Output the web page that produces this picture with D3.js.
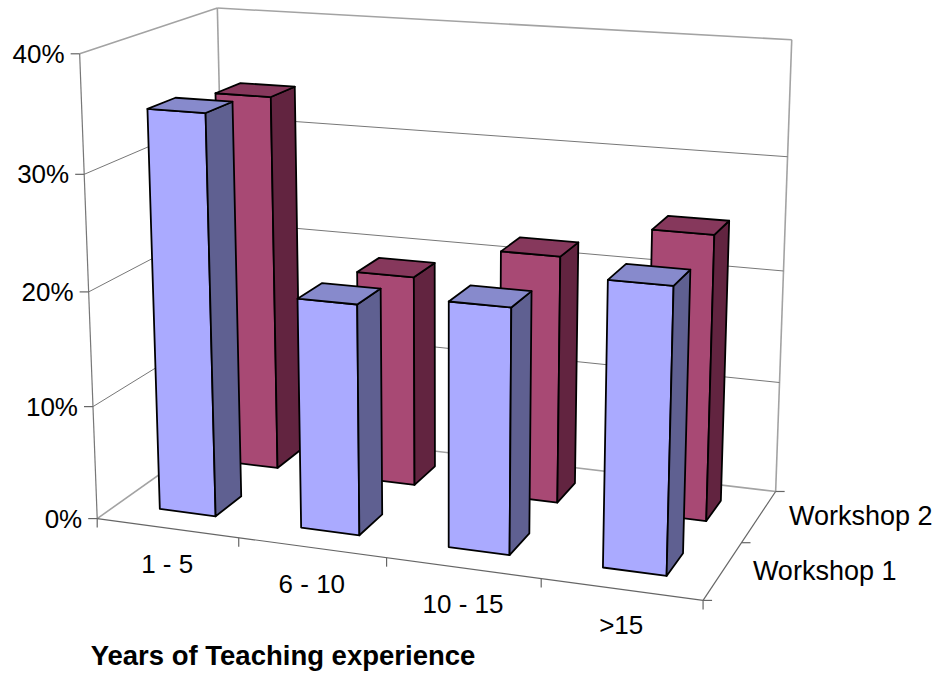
<!DOCTYPE html>
<html>
<head>
<meta charset="utf-8">
<script src="https://cdn.jsdelivr.net/npm/d3@7"></script>
<style>
  html, body { margin: 0; padding: 0; background: #fff; }
  svg { display: block; }
  text { font-family: "Liberation Sans", Arial, sans-serif; fill: #000; }
</style>
</head>
<body>
<svg id="chart" width="938" height="674"></svg>
<script>
// ---- data ----
const categories = ["1 - 5", "6 - 10", "10 - 15", ">15"];
const seriesNames = ["Workshop 1", "Workshop 2"];
const workshop1 = [35, 20, 21, 24];
const workshop2 = [34, 19, 22, 25];
const valueTicks = [0, 10, 20, 30, 40];
const axisTitle = "Years of Teaching experience";

// ---- world scales (plot box: x 0..4 categories, z 0..2 series, y 0..4) ----
const xBand = d3.scaleBand().domain(categories).range([0, 4]).paddingInner(0.6).paddingOuter(0.3);
const zBand = d3.scaleBand().domain(seriesNames).range([0, 2]).paddingInner(0.6).paddingOuter(0.3);
const yScale = d3.scaleLinear().domain([0, 40]).range([0, 4]);

// ---- camera: perspective matrix fitted to where the plot box lands on screen ----
const calib = [
  [0,0,0,98,518],[4,0,0,702,601],[4,0,2,776,490],[0,4,0,80,53],[0,4,2,218,8],[4,4,2,792,40],
  [1,0,0,239,540],[2,0,0,387,558],[4,0,1,743,542],[0,1,0,93,406],[0,3,0,83,175],[4,3,2,787,157],
  [0.3,0,0.3,160,509],[0.7,0,0.3,216,516],[0.7,0,0.7,242,495],
  [1.3,0,0.3,301,528],[1.7,0,0.3,359,534],[1.7,0,0.7,382,515],
  [2.3,0,0.3,448,548],[2.7,0,0.3,509,555],[2.7,0,0.7,530,533],
  [0.7,0,1.3,278,467],[0.7,0,1.7,298,452],[1.7,0,1.3,415,484],[1.7,0,1.7,435,467],
  [2.7,0,1.3,557,502],[2.7,0,1.7,575,483],[3.7,0,1.3,706,520],[3.7,0,1.7,721,503]
];
const CX = 470, CY = 337, S = 300;

// least-squares DLT: 3x4 projection with the last entry fixed to 1
function fitCamera(pts) {
  const n = 11;
  const M = Array.from({length: n}, () => new Array(n + 1).fill(0));
  const add = (r, b) => {
    for (let i = 0; i < n; i++) {
      for (let j = 0; j < n; j++) M[i][j] += r[i] * r[j];
      M[i][n] += r[i] * b;
    }
  };
  for (const [X, Y, Z, u0, v0] of pts) {
    const u = (u0 - CX) / S, v = (v0 - CY) / S;
    add([X, Y, Z, 1, 0, 0, 0, 0, -u * X, -u * Y, -u * Z], u);
    add([0, 0, 0, 0, X, Y, Z, 1, -v * X, -v * Y, -v * Z], v);
  }
  for (let c = 0; c < n; c++) {
    let piv = c;
    for (let r = c + 1; r < n; r++) if (Math.abs(M[r][c]) > Math.abs(M[piv][c])) piv = r;
    [M[c], M[piv]] = [M[piv], M[c]];
    for (let r = 0; r < n; r++) {
      if (r === c) continue;
      const f = M[r][c] / M[c][c];
      for (let k = c; k <= n; k++) M[r][k] -= f * M[c][k];
    }
  }
  return M.map((row, i) => row[n] / row[i]);
}
const P = fitCamera(calib);

function project(X, Y, Z) {
  const w = P[8] * X + P[9] * Y + P[10] * Z + 1;
  return [
    (P[0] * X + P[1] * Y + P[2] * Z + P[3]) / w * S + CX,
    (P[4] * X + P[5] * Y + P[6] * Z + P[7]) / w * S + CY
  ];
}

const svg = d3.select("#chart");
const line = d3.line();
const poly = pts => line(pts.map(p => project(...p))) + "Z";
const seg = (a, b) => line([project(...a), project(...b)]);

const Y40 = yScale(40);
const frame = svg.append("g").attr("fill", "none");

// walls: frame edges
[
  [[0,Y40,0],[0,Y40,2]], [[0,0,2],[0,Y40,2]], [[0,Y40,2],[4,Y40,2]], [[4,0,2],[4,Y40,2]],
  [[0,0,0],[0,0,2]], [[0,0,2],[4,0,2]]
].forEach(([a, b]) => frame.append("path").attr("d", seg(a, b)).attr("stroke", "#a3a3a3").attr("stroke-width", 1.6));

// gridlines on the side and back walls
valueTicks.filter(t => t > 0 && t < 40).forEach(t => {
  const y = yScale(t);
  frame.append("path").attr("d", line([project(0,y,0), project(0,y,2), project(4,y,2)]))
    .attr("stroke", "#777").attr("stroke-width", 1);
});

// axes
frame.append("path").attr("d", seg([0,0,0],[0,Y40,0])).attr("stroke", "#777").attr("stroke-width", 1.2);
frame.append("path").attr("d", seg([0,0,0],[4,0,0])).attr("stroke", "#666").attr("stroke-width", 1.2);
frame.append("path").attr("d", seg([4,0,0],[4,0,2])).attr("stroke", "#666").attr("stroke-width", 1.2);

// value ticks and labels
valueTicks.forEach(t => {
  const [px, py] = project(0, yScale(t), 0);
  frame.append("line").attr("x1", px - 9).attr("y1", py).attr("x2", px).attr("y2", py)
    .attr("stroke", "#666").attr("stroke-width", 1.2);
  svg.append("text").attr("x", px - 15).attr("y", py).attr("text-anchor", "end")
    .attr("dominant-baseline", "central").attr("font-size", 26).text(t + "%");
});

// category ticks and labels
d3.range(0, 5).forEach(i => {
  const [px, py] = project(i, 0, 0);
  frame.append("line").attr("x1", px).attr("y1", py).attr("x2", px).attr("y2", py + 9)
    .attr("stroke", "#666").attr("stroke-width", 1.2);
});
categories.forEach(c => {
  const [px, py] = project(xBand(c) + xBand.bandwidth() / 2, 0, 0);
  svg.append("text").attr("x", px).attr("y", py + 45).attr("text-anchor", "middle")
    .attr("font-size", 26).text(c);
});

// series ticks and labels
d3.range(0, 3).forEach(i => {
  const [px, py] = project(4, 0, i);
  frame.append("line").attr("x1", px).attr("y1", py).attr("x2", px + 9).attr("y2", py)
    .attr("stroke", "#666").attr("stroke-width", 1.2);
});
seriesNames.forEach(s => {
  const [px, py] = project(4, 0, zBand(s) + zBand.bandwidth() / 2);
  svg.append("text").attr("x", px + 30).attr("y", py + 9).attr("font-size", 27).text(s);
});

// axis title
svg.append("text").attr("x", 283).attr("y", 665).attr("text-anchor", "middle")
  .attr("font-size", 27.5).attr("font-weight", "bold").text(axisTitle);

// ---- bars: back series first, each row left to right ----
const seriesData = [
  { name: "Workshop 2", values: workshop2, front: "#a84974", side: "#622440", top: "#86385c" },
  { name: "Workshop 1", values: workshop1, front: "#aaaaff", side: "#5f6091", top: "#878acc" }
];
const bars = svg.append("g").attr("stroke", "#000").attr("stroke-width", 1.8).attr("stroke-linejoin", "round");
seriesData.forEach(s => {
  const z0 = zBand(s.name), z1 = z0 + zBand.bandwidth();
  categories.forEach((c, i) => {
    const x0 = xBand(c), x1 = x0 + xBand.bandwidth(), h = yScale(s.values[i]);
    const g = bars.append("g");
    g.append("path").attr("fill", s.front).attr("d", poly([[x0,0,z0],[x1,0,z0],[x1,h,z0],[x0,h,z0]]));
    g.append("path").attr("fill", s.side).attr("d", poly([[x1,0,z0],[x1,0,z1],[x1,h,z1],[x1,h,z0]]));
    g.append("path").attr("fill", s.top).attr("d", poly([[x0,h,z0],[x1,h,z0],[x1,h,z1],[x0,h,z1]]));
  });
});
</script>
</body>
</html>
